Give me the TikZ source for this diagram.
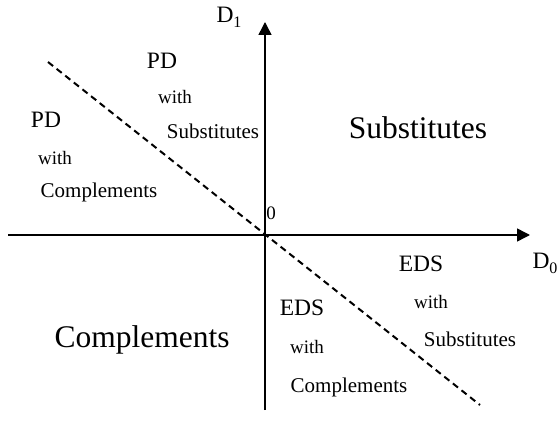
\documentclass[tikz,border=0pt]{standalone}
\usepackage{fontspec}
\setmainfont{Liberation Serif}
\usetikzlibrary{arrows.meta}
\tikzset{
    big/.style={font={\fontsize{31.5pt}{34}\selectfont}},
    mid/.style={font={\fontsize{21pt}{24}\selectfont}},
    caps/.style={font={\fontsize{23.5pt}{26}\selectfont}},
    small/.style={font={\fontsize{19pt}{22}\selectfont}},
    axis/.style={line width=1.5pt,-{Triangle[width=13pt,length=13pt]}},
    }
\begin{document}
\begin{tikzpicture}
    [x=1pt, y=-1pt]
    \useasboundingbox (0,0) rectangle (557,436);
    \coordinate (west) at (8,235);
    \coordinate (east) at (530,235);
    \coordinate (south) at (265,410);
    \coordinate (north) at (265,22);
    \coordinate (upleft) at (48,62);
    \coordinate (downright) at (480,405);
    \draw[axis] (west)--(east);
    \draw[axis] (south)--(north);
    \draw[line width=2pt,dash pattern=on 6.5pt off 4.5pt] (upleft)--(downright);
    % text
    \node[caps] (d1) at (229,17) {D\raisebox{-5pt}{\fontsize{16pt}{16}\selectfont 1}};
    \node[caps] (d0) at (545,263) {D\raisebox{-5pt}{\fontsize{16pt}{16}\selectfont 0}};
    \node[small] (zero) at (271,213) {0};
    \node[caps] (pdup) at (162,61) {PD};
    \node[small] (withup) at (175,97) {with};
    \node[mid] (subup) at (213,131) {Substitutes};
    \node[caps] (pdleft) at (46,120) {PD};
    \node[small] (withleft) at (55,158) {with};
    \node[mid] (compleft) at (99,192) {Complements};
    \node[big] (subs) at (418,128) {Substitutes};
    \node[big] (comps) at (142,340) {Complements};
    \node[caps] (edsright) at (421,264) {EDS};
    \node[small] (withright) at (431,302) {with};
    \node[mid] (subright) at (470,339) {Substitutes};
    \node[caps] (edsdown) at (302,308) {EDS};
    \node[small] (withdown) at (307,347) {with};
    \node[mid] (compdown) at (349,387) {Complements};
\end{tikzpicture}
\end{document}
